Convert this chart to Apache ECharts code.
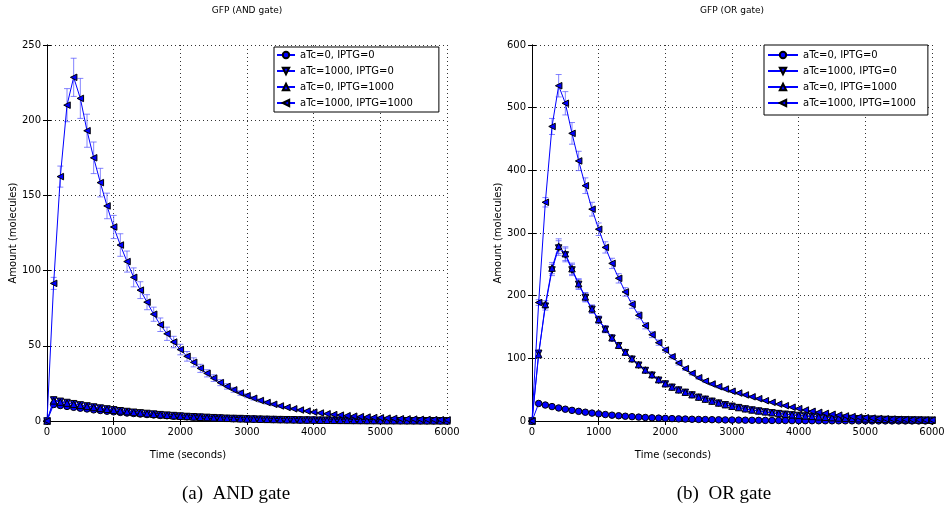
<!DOCTYPE html>
<html>
<head>
<meta charset="utf-8">
<script src="https://cdn.jsdelivr.net/npm/echarts@6/dist/echarts.min.js"></script>
<style>html,body{margin:0;padding:0;background:#fff}#chart{width:948px;height:517px}</style>
</head>
<body>
<div id="chart"></div>
<script>
// ---------- data ----------
const times = [0,100,200,300,400,500,600,700,800,900,1000,1100,1200,1300,1400,1500,1600,1700,1800,1900,2000,
  2100,2200,2300,2400,2500,2600,2700,2800,2900,3000,3100,3200,3300,3400,3500,3600,3700,3800,3900,4000,
  4100,4200,4300,4400,4500,4600,4700,4800,4900,5000,5100,5200,5300,5400,5500,5600,5700,5800,5900,6000];
const seriesNames = ['aTc=0, IPTG=0','aTc=1000, IPTG=0','aTc=0, IPTG=1000','aTc=1000, IPTG=1000'];
const xTicks = [0,1000,2000,3000,4000,5000,6000];
const andTicks = [0,50,100,150,200,250];
const orTicks = [0,100,200,300,400,500,600];

// AND gate
const andNone = [0, 11,10.3,9.7,9.1,8.5,8,7.4,7,6.5,6.1, 5.7,5.3,5,4.6,4.3,4,3.7,3.5,3.2,3,
  2.8,2.6,2.4,2.2,2,1.9,1.7,1.6,1.5,1.4, 1.3,1.2,1.1,1,0.92,0.85,0.78,0.72,0.66,0.61,
  0.56,0.52,0.48,0.44,0.4,0.37,0.34,0.31,0.29,0.27, 0.25,0.23,0.21,0.19,0.18,0.16,0.15,0.14,0.13,0.12];
const andATc = [0, 14,13.1,12.3,11.5,10.7,10,9.3,8.6,8,7.4, 6.8,6.3,5.8,5.4,5,4.6,4.2,3.9,3.6,3.3,
  3,2.8,2.6,2.4,2.2,2,1.8,1.7,1.6,1.4, 1.3,1.2,1.1,1,0.9,0.85,0.8,0.7,0.65,0.6,
  0.55,0.5,0.46,0.42,0.39,0.36,0.33,0.3,0.28,0.26, 0.24,0.22,0.2,0.18,0.17,0.15,0.14,0.13,0.12,0.11];
const andIptg = [0, 13.4,12.6,11.9,11.1,10.4,9.7,9,8.4,7.8,7.2, 6.7,6.2,5.7,5.3,4.9,4.5,4.2,3.8,3.5,3.2,
  3,2.7,2.5,2.3,2.1,1.95,1.8,1.65,1.5,1.4, 1.3,1.2,1.1,1,0.92,0.84,0.77,0.71,0.65,0.6,
  0.55,0.5,0.46,0.42,0.39,0.36,0.33,0.3,0.28,0.25, 0.23,0.21,0.2,0.18,0.16,0.15,0.14,0.13,0.12,0.11];
const andBoth = [0, 91.5,162.5,210,228.5,214.5,193,175,158.5,143,129, 117,106,95.5,87,79,71,64,58,52.5,47.5,
  43,39,35,31.7,28.5,25.5,23,20.7,18.6,16.8, 15.1,13.6,12.3,11.1,10,9,8.1,7.3,6.6,5.9,
  5.3,4.8,4.3,3.9,3.5,3.2,2.9,2.6,2.3,2.1, 1.9,1.7,1.5,1.4,1.25,1.1,1,0.9,0.82,0.74];
const andBothErr = [0, 4,7,11,12.7,13.3,11,10.5,9.5,8.5,7.7, 7.5,7,6.3,5.6,5,4.7,4.5,4.4,3.8,3.5,
  3.2,3,2.7,2.4,2.2,2,1.8,1.6,1.5,1.3, 1.2,1.1,1,0.9,0.8,0.7,0.65,0.6,0.55,0.5,
  0.45,0.4,0.36,0.33,0.3,0.27,0.25,0.22,0.2,0.18, 0.16,0.15,0.13,0.12,0.11,0.1,0.09,0.08,0.07,0.06];

// OR gate
const orNone = [0, 28,25.5,23,20.8,18.8,17,15.4,14,12.6,11.4, 10.3,9.3,8.4,7.6,6.9,6.2,5.6,5.1,4.6,4.2,
  3.8,3.4,3.1,2.8,2.5,2.3,2.1,1.9,1.7,1.5, 1.4,1.25,1.13,1.02,0.92,0.83,0.75,0.68,0.61,0.55,
  0.5,0.45,0.41,0.37,0.33,0.3,0.27,0.25,0.22,0.2, 0.18,0.16,0.15,0.13,0.12,0.11,0.1,0.09,0.08,0.07];
const orATc = [0, 108,183,241,276,265,241,218,197,178,161, 146,132,120,109,98.5,89,80.5,73,65,59,
  53.8,49.3,45.7,41.5,37.8,34.6,31.4,28.5,25.8,23.4, 21.3,19.2,17.5,15.9,14.4,13,11.8,10.7,9.7,8.8,
  8,7.2,6.5,5.9,5.3,4.8,4.4,4,3.6,3.3, 3,2.7,2.4,2.2,2,1.8,1.6,1.5,1.35,1.2];
const orIptg = [0, 106,186,244,279,267,243,219,198,179,162, 147,133,121,110,99.5,90,81.5,74,66,59.5,
  54.2,49.8,46,42,38.2,35,31.8,28.8,26.1,23.7, 21.5,19.5,17.7,16.1,14.6,13.2,12,10.9,9.9,9,
  8.1,7.4,6.7,6,5.4,4.9,4.5,4.1,3.7,3.4, 3.1,2.8,2.5,2.3,2.1,1.9,1.7,1.55,1.4,1.25];
const orBoth = [0, 189,349,470,535,507,459,415,375.5,338,306, 277,251.5,227.7,206,186,168.6,152,137.7,125,113.3,
  102.6,92.5,83.5,76,69,63.5,59,54.8,51,47.5, 44.6,41.6,38.6,35.6,32.4,29.8,27,24.5,22,19.7,
  17.5,15.5,13.8,12.2,10.7,9.3,8.1,7,6.1,5.3, 4.6,4,3.5,3.1,2.7,2.4,2.1,1.9,1.7,1.5];
const orBothErr = [0, 4.5,7.5,12.8,17.9,18.6,17.3,15.4,12.5,11,10, 9,8.2,7.5,6.8,6.2,5.6,5,4.6,4.2,3.8,
  3.5,3.2,2.9,2.6,2.4,2.2,2,1.9,1.8,1.7, 1.6,1.5,1.4,1.3,1.2,1.1,1,0.9,0.8,0.72,
  0.65,0.58,0.52,0.47,0.42,0.38,0.34,0.3,0.27,0.24, 0.22,0.2,0.18,0.16,0.14,0.13,0.12,0.11,0.1,0.09];
const orMidErr = [0, 4,6,9,11.7,11,9,8,7,6.3,5.7, 5.2,4.7,4.3,3.9,3.5,3.2,2.9,2.6,2.4,2.2,
  2,1.8,1.7,1.55,1.4,1.3,1.2,1.1,1,0.9, 0.82,0.75,0.68,0.62,0.56,0.51,0.46,0.42,0.38,0.35,
  0.32,0.29,0.26,0.24,0.22,0.2,0.18,0.16,0.15,0.14, 0.13,0.12,0.11,0.1,0.09,0.08,0.07,0.07,0.06,0.06];
// shared error estimate for the low-level curves
const lowErr = [0, 1.8,1.6,1.5,1.4,1.3,1.2,1.1,1,0.95,0.9, 0.85,0.8,0.75,0.7,0.65,0.6,0.55,0.5,0.46,0.42,
  0.39,0.36,0.33,0.3,0.28,0.26,0.24,0.22,0.2,0.19, 0.18,0.17,0.16,0.15,0.14,0.13,0.12,0.11,0.1,0.09,
  0.08,0.08,0.07,0.07,0.06,0.06,0.05,0.05,0.05,0.04, 0.04,0.04,0.03,0.03,0.03,0.03,0.02,0.02,0.02,0.02];

// ---------- build ----------
const chart = echarts.init(document.getElementById('chart'), null, {renderer: 'canvas'});
const FONT = 'DejaVu Sans';
const BLUE = '#0000ff';
const ERRC = 'rgba(80,80,255,0.7)';
const symbolOf = [{s:'circle',r:0},{s:'triangle',r:180},{s:'triangle',r:0},{s:'triangle',r:90}];

function lineSeries(g, idx, vals) {
  return {
    type: 'line', name: seriesNames[idx], xAxisIndex: g, yAxisIndex: g,
    data: times.map((t, i) => [t, vals[i]]),
    symbol: symbolOf[idx].s, symbolRotate: symbolOf[idx].r, symbolSize: 6.5, showSymbol: true,
    lineStyle: {color: BLUE, width: 1},
    itemStyle: {color: BLUE, borderColor: '#000', borderWidth: 1},
    z: 4 + idx, animation: false, clip: false
  };
}
function errSeries(g, vals, errs) {
  return {
    type: 'custom', name: 'err', xAxisIndex: g, yAxisIndex: g,
    data: times.map((t, i) => [t, vals[i], errs[i]]),
    encode: {x: 0, y: 1}, z: 3, animation: false, silent: true,
    renderItem: function (params, api) {
      const x = api.value(0), y = api.value(1), e = api.value(2);
      if (!(e > 0)) return null;
      const hi = api.coord([x, y + e]), lo = api.coord([x, y - e]);
      const hw = 3;
      const st = {stroke: ERRC, lineWidth: 1};
      return {type: 'group', children: [
        {type: 'line', shape: {x1: hi[0], y1: hi[1], x2: lo[0], y2: lo[1]}, style: st},
        {type: 'line', shape: {x1: hi[0] - hw, y1: hi[1], x2: hi[0] + hw, y2: hi[1]}, style: st},
        {type: 'line', shape: {x1: lo[0] - hw, y1: lo[1], x2: lo[0] + hw, y2: lo[1]}, style: st}
      ]};
    }
  };
}

const grids = [
  {left: 47, top: 45, width: 400, height: 376},
  {left: 532, top: 45, width: 400, height: 376}
];
const tickStyle = {inside: true, length: 4, lineStyle: {color: '#000', width: 1}};
const axisLineStyle = {show: true, lineStyle: {color: '#000', width: 1}};
const splitStyle = {show: true, lineStyle: {color: '#333', width: 1, type: [1, 3]}};
const labelStyle = {color: '#000', fontSize: 10, fontFamily: FONT, formatter: v => String(v)};

function xAx(g, pos) {
  const main = pos === 'bottom';
  return {
    type: 'value', gridIndex: g, position: pos, min: xTicks[0], max: xTicks[xTicks.length - 1], interval: 1000,
    axisLine: axisLineStyle, axisTick: tickStyle,
    axisLabel: Object.assign({show: main, margin: 6}, labelStyle),
    splitLine: main ? splitStyle : {show: false},
    name: main ? 'Time (seconds)' : '', nameLocation: 'middle', nameGap: 29,
    nameTextStyle: {color: '#000', fontSize: 10, fontFamily: FONT, padding: [0, 118, 0, 0]}
  };
}
function yAx(g, pos, ticks) {
  const main = pos === 'left';
  return {
    type: 'value', gridIndex: g, position: pos, min: ticks[0], max: ticks[ticks.length - 1],
    interval: ticks[1] - ticks[0],
    axisLine: axisLineStyle, axisTick: tickStyle,
    axisLabel: Object.assign({show: main, margin: 6}, labelStyle),
    splitLine: main ? splitStyle : {show: false},
    name: main ? 'Amount (molecules)' : '', nameLocation: 'middle', nameGap: 25,
    nameTextStyle: {color: '#000', fontSize: 10, fontFamily: FONT}
  };
}

function legendAt(left, top, padding, itemWidth) {
  return {
    data: seriesNames, orient: 'vertical', left: left, top: top, padding: padding,
    itemGap: 6, itemWidth: itemWidth, itemHeight: 8, selectedMode: false,
    backgroundColor: '#fff', borderColor: '#000', borderWidth: 1, borderRadius: 0,
    textStyle: {color: '#000', fontSize: 10, fontFamily: FONT}
  };
}

const option = {
  backgroundColor: '#fff',
  animation: false,
  grid: grids,
  xAxis: [xAx(0, 'bottom'), xAx(1, 'bottom'), xAx(0, 'top'), xAx(1, 'top')],
  yAxis: [yAx(0, 'left', andTicks), yAx(1, 'left', orTicks), yAx(0, 'right', andTicks), yAx(1, 'right', orTicks)],
  legend: [legendAt(274, 47, [3, 26, 4, 2], 18), legendAt(764, 45, [5, 12, 7, 3], 30)],
  series: [
    errSeries(0, andNone, lowErr), errSeries(0, andATc, lowErr), errSeries(0, andIptg, lowErr), errSeries(0, andBoth, andBothErr),
    lineSeries(0, 0, andNone), lineSeries(0, 1, andATc), lineSeries(0, 2, andIptg), lineSeries(0, 3, andBoth),
    errSeries(1, orNone, lowErr), errSeries(1, orATc, orMidErr), errSeries(1, orIptg, orMidErr), errSeries(1, orBoth, orBothErr),
    lineSeries(1, 0, orNone), lineSeries(1, 1, orATc), lineSeries(1, 2, orIptg), lineSeries(1, 3, orBoth)
  ],
  graphic: [
    {type: 'text', x: 247, y: 11, style: {text: 'GFP (AND gate)', align: 'center', verticalAlign: 'middle', font: '9px "DejaVu Sans"', fill: '#000'}},
    {type: 'text', x: 732, y: 11, style: {text: 'GFP (OR gate)', align: 'center', verticalAlign: 'middle', font: '9px "DejaVu Sans"', fill: '#000'}},
    {type: 'text', x: 236, y: 494, style: {text: '(a)  AND gate', align: 'center', verticalAlign: 'middle', font: '19px "Liberation Serif"', fill: '#000'}},
    {type: 'text', x: 724, y: 494, style: {text: '(b)  OR gate', align: 'center', verticalAlign: 'middle', font: '19px "Liberation Serif"', fill: '#000'}}
  ]
};
chart.setOption(option);
</script>
</body>
</html>
